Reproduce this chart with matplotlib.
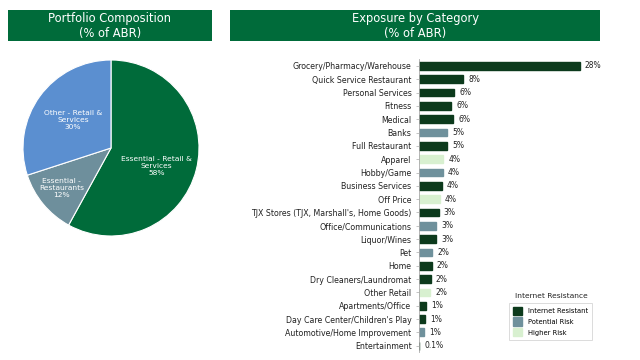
import matplotlib
matplotlib.use("Agg")
import matplotlib.pyplot as plt
from matplotlib.patches import Rectangle, Patch

plt.rcParams['font.family'] = ['DejaVu Sans']

# ---- data ----
pie_labels = ["Essential - Retail &\nServices\n58%", "Essential -\nRestaurants\n12%", "Other - Retail &\nServices\n30%"]
pie_values = [58, 12, 30]
pie_colors = ["#006b3a", "#6e8f9c", "#5b8fd0"]

categories = ["Grocery/Pharmacy/Warehouse", "Quick Service Restaurant", "Personal Services", "Fitness",
              "Medical", "Banks", "Full Restaurant", "Apparel", "Hobby/Game", "Business Services",
              "Off Price", "TJX Stores (TJX, Marshall's, Home Goods)", "Office/Communications",
              "Liquor/Wines", "Pet", "Home", "Dry Cleaners/Laundromat", "Other Retail",
              "Apartments/Office", "Day Care Center/Children's Play", "Automotive/Home Improvement",
              "Entertainment"]
values = [28.0, 7.8, 6.2, 5.7, 6.0, 4.9, 5.0, 4.3, 4.2, 4.0, 3.7, 3.5, 3.0, 3.0, 2.4, 2.3, 2.1,
          2.0, 1.3, 1.2, 0.9, 0.1]
value_labels = ["28%", "8%", "6%", "6%", "6%", "5%", "5%", "4%", "4%", "4%", "4%", "3%", "3%",
                "3%", "2%", "2%", "2%", "2%", "1%", "1%", "1%", "0.1%"]
risk = ["R", "R", "R", "R", "R", "P", "R", "H", "P", "R", "H", "R", "P", "R", "P", "R", "R", "H",
        "R", "R", "P", "R"]
risk_names = {"R": "Internet Resistant", "P": "Potential Risk", "H": "Higher Risk"}
risk_colors = {"R": "#0c3a1c", "P": "#6f919c", "H": "#d8f0d0"}

W, H = 640, 360
fig = plt.figure(figsize=(6.4, 3.6), dpi=100)
fig.patch.set_facecolor("white")

def fx(px): return px / W
def fy(py): return 1 - py / H

band = "#006b3a"
# title bands
fig.patches.append(Rectangle((fx(8), fy(41)), fx(204), 31 / H, transform=fig.transFigure,
                             facecolor=band, edgecolor="none"))
fig.text(fx(110), fy(26), "Portfolio Composition\n(% of ABR)", color="white", ha="center",
         va="center", fontsize=8.3, linespacing=1.15)
fig.patches.append(Rectangle((fx(230), fy(41)), fx(370), 31 / H, transform=fig.transFigure,
                             facecolor=band, edgecolor="none"))
fig.text(fx(415), fy(26), "Exposure by Category\n(% of ABR)", color="white", ha="center",
         va="center", fontsize=8.3, linespacing=1.15)

# pie
axp = fig.add_axes([fx(23), fy(236), fx(176), 176 / H])
wedges, _ = axp.pie(pie_values, colors=pie_colors, startangle=90, counterclock=False,
                    wedgeprops=dict(edgecolor="white", linewidth=0.8))
axp.set_xlim(-1, 1); axp.set_ylim(-1, 1)
axp.set_aspect("equal")
label_pos = [(0.52, -0.2), (-0.56, -0.45), (-0.43, 0.32)]
for (lx, ly), t in zip(label_pos, pie_labels):
    axp.text(lx, ly, t, color="white", ha="center", va="center", fontsize=5.4, linespacing=1.2)

# bars
axb = fig.add_axes([fx(418.5), fy(352.3), fx(201.6), 293 / H])
y = list(range(len(categories)))
cols = [risk_colors[r] for r in risk]
axb.barh(y, values, height=0.58, color=cols, edgecolor=cols)
axb.set_xlim(0, 35)
axb.set_ylim(len(categories) - 0.5, -0.5)
axb.set_yticks(y)
axb.set_yticklabels(categories, fontsize=5.7, color="#222222")
axb.tick_params(axis="y", length=2, width=0.5, color="#aaaaaa", pad=3)
axb.set_xticks([])
for s in ["top", "right", "bottom"]:
    axb.spines[s].set_visible(False)
axb.spines["left"].set_color("#aaaaaa")
axb.spines["left"].set_linewidth(0.6)
for yi, v, lab in zip(y, values, value_labels):
    axb.text(v + 0.9, yi, lab, va="center", ha="left", fontsize=5.5, color="#222222")

# legend
fig.text(fx(551), fy(296), "Internet Resistance", ha="center", va="center", fontsize=5.4,
         color="#222222")
handles = [Patch(facecolor=risk_colors[k], edgecolor=risk_colors[k], label=risk_names[k])
           for k in ["R", "P", "H"]]
leg = fig.legend(handles=handles, loc="upper left", bbox_to_anchor=(fx(509), fy(303)),
                 fontsize=4.9, frameon=True, fancybox=False, handlelength=1.3, handleheight=1.5,
                 borderpad=0.55, labelspacing=0.35, handletextpad=1.0, borderaxespad=0)
leg.get_frame().set_edgecolor("#cccccc")
leg.get_frame().set_linewidth(0.6)

fig.savefig("out.png", dpi=100)
